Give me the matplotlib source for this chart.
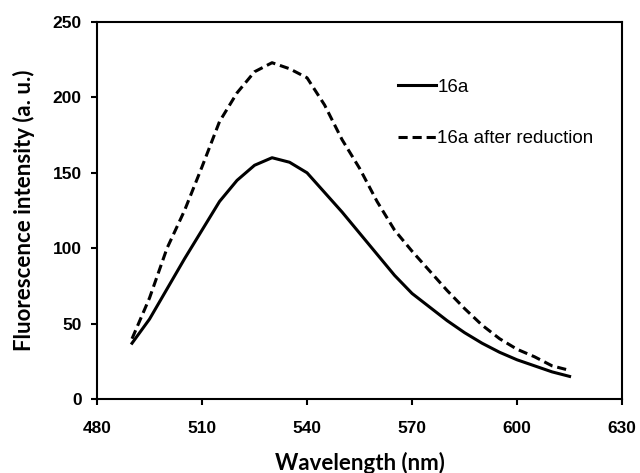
import matplotlib
matplotlib.use("Agg")
import matplotlib.pyplot as plt

# Longitud de onda (nm) y emision de fluorescencia (a. u.)
wavelength = [490, 495, 500, 505, 510, 515, 520, 525, 530, 535, 540, 545, 550,
              555, 560, 565, 570, 575, 580, 585, 590, 595, 600, 605, 610, 615]
intensity_16a = [37, 53, 73, 93, 112, 131, 145, 155, 160, 157, 150, 137, 124,
                 110, 96, 82, 70, 61, 52, 44, 37, 31, 26, 22, 18, 15]
intensity_reduced = [40, 67, 100, 125, 154, 184, 203, 217, 223, 219, 213, 195, 172,
                     153, 131, 112, 98, 85, 72, 60, 49, 40, 33, 28, 22, 19]

fig = plt.figure(figsize=(6.4, 4.73), dpi=100)
ax = fig.add_axes([0.1516, 0.1564, 0.8204, 0.7971])

ax.plot(wavelength, intensity_16a, color='black', lw=2.2, label='16a')
ax.plot(wavelength, intensity_reduced, color='black', lw=2.2, ls=(0, (3, 1.6)),
        label='16a after reduction')

ax.set_xlim(480, 630)
ax.set_ylim(0, 250)
ax.set_xticks(range(480, 631, 30))
ax.set_yticks(range(0, 251, 50))

for s in ax.spines.values():
    s.set_linewidth(1.5)
ax.tick_params(direction='out', length=4, width=1.5, labelsize=12.5)
ax.tick_params(axis='x', pad=12)
ax.tick_params(axis='y', pad=7)
for lab in ax.get_xticklabels() + ax.get_yticklabels():
    lab.set_fontweight('bold')
    lab.set_fontfamily('Liberation Sans')

ax.set_xlabel('Wavelength (nm)', fontsize=16, fontweight='bold', family='Lato', labelpad=11)
ax.set_ylabel('Fluorescence intensity (a. u.)', fontsize=16, fontweight='bold', family='Lato', labelpad=13)

leg = ax.legend(loc='upper left', bbox_to_anchor=(0.573, 0.85), frameon=False,
                prop={'family': 'Liberation Sans', 'size': 13.5},
                borderpad=0, borderaxespad=0,
                handlelength=2.05, handletextpad=0.05, labelspacing=1.83)

fig.savefig('out.png', dpi=100)
